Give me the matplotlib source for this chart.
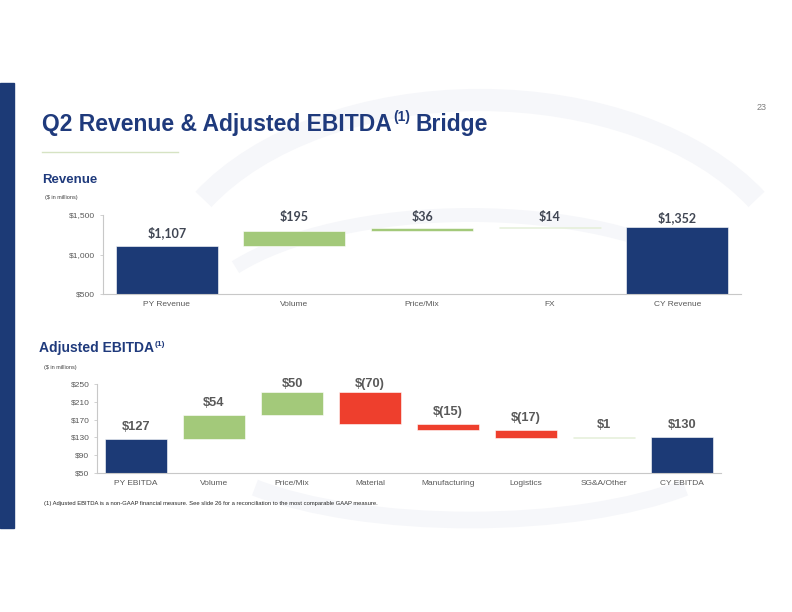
import numpy as np
import matplotlib
matplotlib.use("Agg")
from matplotlib import pyplot as plt
from matplotlib.patches import Rectangle, Arc

plt.rcParams['font.family'] = ['Liberation Sans', 'DejaVu Sans']

# revenue bridge ($ in millions)
rev_cats = ['PY Revenue', 'Volume', 'Price/Mix', 'FX', 'CY Revenue']
rev_vals = [1107, 195, 36, 14, 1352]
rev_total = [True, False, False, False, True]
rev_ticks = [500, 1000, 1500]

# adjusted EBITDA bridge ($ in millions)
eb_cats = ['PY EBITDA', 'Volume', 'Price/Mix', 'Material', 'Manufacturing',
           'Logistics', 'SG&A/Other', 'CY EBITDA']
eb_vals = [127, 54, 50, -70, -15, -17, 1, 130]
eb_total = [True, False, False, False, False, False, False, True]
eb_ticks = [50, 90, 130, 170, 210, 250]

NAVY = '#1c3a76'
GREEN = '#a3c97a'
RED = '#ee3f2d'
GRAY = '#595959'
W, H = 792, 612


def fx(x):
    return x / W


def fy(y):
    return 1 - y / H


def money(v):
    s = '${:,}'.format(abs(v))
    return s if v >= 0 else '$({:,})'.format(abs(v))


def waterfall(ax, cats, vals, totals, ticks, lab_off, lab_cap, lab_font):
    x = np.arange(len(cats))
    run = 0
    for i, (v, t) in enumerate(zip(vals, totals)):
        if t:
            bottom, height, color = 0, v, NAVY
            run = v
        else:
            bottom = run if v >= 0 else run + v
            height = abs(v)
            color = GREEN if v >= 0 else RED
            run += v
        ax.bar(x[i], height, bottom=bottom, width=0.8, color=color,
               edgecolor='white', linewidth=0.4, zorder=2)
        top = bottom + height
        ax.text(x[i], min(top + lab_off, lab_cap), money(v), ha='center',
                va='center', clip_on=False, **lab_font)
    ax.set_xlim(-0.5, len(cats) - 0.5)
    ax.set_ylim(ticks[0], ticks[-1])
    ax.set_yticks(ticks)
    ax.set_yticklabels([money(t) for t in ticks])
    ax.set_xticks(x)
    ax.set_xticklabels(cats)
    ax.tick_params(axis='y', length=2.5, width=0.5, color='#bfbfbf',
                   labelsize=6, labelcolor=GRAY, pad=3)
    ax.tick_params(axis='x', length=0, labelsize=6, labelcolor=GRAY, pad=5)
    for s in ['top', 'right']:
        ax.spines[s].set_visible(False)
    for s in ['left', 'bottom']:
        ax.spines[s].set_color('#c8c8c8')
        ax.spines[s].set_linewidth(0.8)
    ax.patch.set_alpha(0)


fig = plt.figure(figsize=(7.92, 6.12), dpi=100)

# faint watermark swooshes behind everything
bg = fig.add_axes([0, 0, 1, 1], zorder=-5)
bg.set_xlim(0, W)
bg.set_ylim(H, 0)
bg.axis('off')
for cx, cy, w, h, t1, t2, lw in [
        (480, 300, 640, 400, 200, 340, 16),
        (470, 330, 560, 230, 195, 345, 10),
        (470, 430, 560, 180, 15, 165, 12)]:
    bg.add_patch(Arc((cx, cy), w, h, theta1=t1, theta2=t2, color='#f6f7fa',
                     lw=lw))

# left navy strip and title underline
fig.patches.append(Rectangle((0, fy(528)), fx(14), (528 - 83) / H,
                             transform=fig.transFigure, color=NAVY))
fig.lines.append(plt.Line2D([fx(42), fx(178)], [fy(152), fy(152)],
                            transform=fig.transFigure, color='#d6e3c3', lw=1))

title = fig.text(fx(42), fy(131), 'Q2 Revenue & Adjusted EBITDA', fontsize=16.5,
                 fontweight='bold', color='#1f3a7c', va='baseline')
r = fig.canvas.get_renderer()
bb = title.get_window_extent(r)
sup = fig.text(bb.x1 / W + 0.002, fy(131) + 0.016, '(1)', fontsize=10,
               fontweight='bold', color='#1f3a7c', va='baseline')
bb2 = sup.get_window_extent(r)
fig.text(bb2.x1 / W + 0.006, fy(131), 'Bridge', fontsize=16.5,
         fontweight='bold', color='#1f3a7c', va='baseline')
fig.text(fx(762), fy(107), '23', fontsize=6.5, color='#7f7f7f', ha='center',
         va='center')

fig.text(fx(42), fy(183), 'Revenue', fontsize=9.5, fontweight='bold',
         color='#1f3a7c', va='baseline')
fig.text(fx(45), fy(198), '($ in millions)', fontsize=4, color='#404040',
         va='center')

h1 = fig.text(fx(39), fy(352), 'Adjusted EBITDA', fontsize=10,
              fontweight='bold', color='#1f3a7c', va='baseline')
bb3 = h1.get_window_extent(r)
fig.text(bb3.x1 / W + 0.001, fy(352) + 0.009, '(1)', fontsize=6,
         fontweight='bold', color='#1f3a7c', va='baseline')
fig.text(fx(44), fy(367), '($ in millions)', fontsize=4, color='#404040',
         va='center')

fig.text(fx(44), fy(503), '(1) Adjusted EBITDA is a non-GAAP financial measure. '
         'See slide 26 for a reconciliation to the most comparable GAAP measure.',
         fontsize=4.2, color='#262626', va='center')

ax1 = fig.add_axes([fx(103), fy(294), fx(741) - fx(103), (294 - 215) / H])
waterfall(ax1, rev_cats, rev_vals, rev_total, rev_ticks, 170, 1470,
          dict(fontsize=9, fontweight='bold', color='#404653',
               family=['Lato', 'DejaVu Sans']))

ax2 = fig.add_axes([fx(97), fy(473), fx(721) - fx(97), (473 - 384) / H])
waterfall(ax2, eb_cats, eb_vals, eb_total, eb_ticks, 27, 250,
          dict(fontsize=9.3, fontweight='bold', color=GRAY))

fig.savefig('out.png', dpi=100, facecolor='white')
